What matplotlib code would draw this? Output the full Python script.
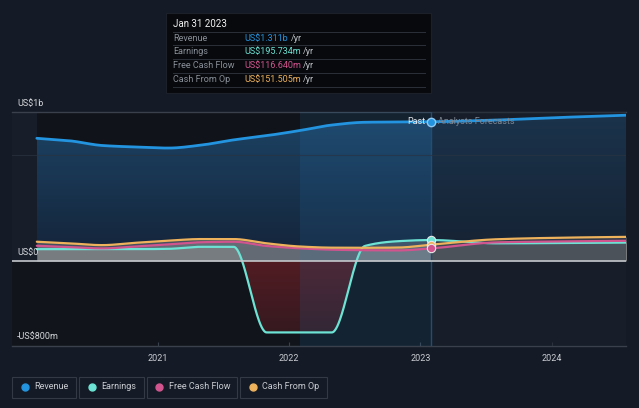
import numpy as np
import pandas as pd
import matplotlib
matplotlib.use("Agg")
import matplotlib.pyplot as plt
import matplotlib.dates as mdates
from matplotlib.patches import Rectangle
from matplotlib.lines import Line2D
from matplotlib.textpath import TextPath
from matplotlib.font_manager import FontProperties

plt.rcParams['font.family'] = ['Roboto', 'DejaVu Sans']

# data in US$ billions
past_dates = ["2020-01-31", "2020-04-30", "2020-07-31", "2020-10-31", "2021-01-31",
              "2021-04-30", "2021-07-31", "2021-10-31", "2022-01-31", "2022-04-30",
              "2022-07-31", "2022-10-31", "2023-01-31"]
fc_dates = ["2023-01-31", "2023-07-31", "2024-01-31", "2024-07-31"]

revenue = [1.155, 1.132, 1.087, 1.073, 1.063, 1.09, 1.14, 1.18, 1.228, 1.28, 1.306, 1.309, 1.311]
earnings = [0.11, 0.11, 0.11, 0.11, 0.113, 0.132, 0.132, -0.675, -0.675, -0.675, 0.14, 0.185, 0.196]
fcf = [0.142, 0.13, 0.117, 0.135, 0.155, 0.175, 0.18, 0.14, 0.118, 0.105, 0.1, 0.098, 0.117]
cfo = [0.18, 0.165, 0.148, 0.17, 0.19, 0.205, 0.205, 0.165, 0.135, 0.124, 0.123, 0.125, 0.152]

revenue_fc = [1.311, 1.327, 1.352, 1.373]
earnings_fc = [0.196, 0.165, 0.168, 0.172]
fcf_fc = [0.117, 0.174, 0.183, 0.189]
cfo_fc = [0.152, 0.203, 0.218, 0.226]

names = ["Revenue", "Earnings", "Free Cash Flow", "Cash From Op"]
colors = ["#2394df", "#6ce3d4", "#d2548f", "#eeb25c"]
tip_values = ["US$1.311b", "US$195.734m", "US$116.640m", "US$151.505m"]
year_ticks = ["2021-01-01", "2022-01-01", "2023-01-01", "2024-01-01"]

BG = "#151b26"
W, H = 639, 408


def fp(x, y):
    return x / W, 1 - y / H


def smooth(x, y, n=500):
    # monotone cubic, like the curves on the site
    x = np.asarray(x, float)
    y = np.asarray(y, float)
    h = np.diff(x)
    d = np.diff(y) / h
    m = np.zeros_like(y)
    m[0], m[-1] = d[0], d[-1]
    for i in range(1, len(y) - 1):
        if d[i - 1] * d[i] <= 0:
            m[i] = 0
        else:
            w1 = 2 * h[i] + h[i - 1]
            w2 = h[i] + 2 * h[i - 1]
            m[i] = (w1 + w2) / (w1 / d[i - 1] + w2 / d[i])
    xs = np.linspace(x[0], x[-1], n)
    k = np.clip(np.searchsorted(x, xs) - 1, 0, len(h) - 1)
    t = (xs - x[k]) / h[k]
    ys = ((2 * t**3 - 3 * t**2 + 1) * y[k] + (t**3 - 2 * t**2 + t) * h[k] * m[k]
          + (-2 * t**3 + 3 * t**2) * y[k + 1] + (t**3 - t**2) * h[k] * m[k + 1])
    return xs, ys


def gradient_fill(ax, xs, y1, y2, c_top, c_bot, ylo, yhi, z):
    poly = ax.fill_between(xs, y1, y2, color="none", lw=0)
    c1 = np.array(matplotlib.colors.to_rgb(c_top))
    c2 = np.array(matplotlib.colors.to_rgb(c_bot))
    t = np.linspace(0, 1, 256)[:, None]
    img = (c1 * (1 - t) + c2 * t)[:, None, :]
    im = ax.imshow(img, extent=[xs[0], xs[-1], ylo, yhi], aspect="auto",
                   origin="upper", zorder=z)
    im.set_clip_path(poly.get_paths()[0], transform=ax.transData)


pd_past = mdates.date2num(pd.to_datetime(past_dates))
pd_fc = mdates.date2num(pd.to_datetime(fc_dates))
all_x = np.concatenate([pd_past, pd_fc[1:]])
now = pd_past[-1]
year_ago = mdates.date2num(pd.Timestamp("2022-01-31"))

fig = plt.figure(figsize=(W / 100, H / 100), dpi=100, facecolor=BG)
ax = fig.add_axes([12 / W, 1 - 345.7 / H, 614 / W, 233.4 / H])
ax.set_facecolor("#171e2a")

x0 = mdates.date2num(pd.Timestamp("2019-11-23"))
x1 = mdates.date2num(pd.Timestamp("2024-07-26"))
ax.set_xlim(x0, x1)
ax.set_ylim(-0.8, 1.4)
zero_frac = 0.8 / 2.2

# dark past area
ax.axvspan(pd_past[0], now, ymin=zero_frac, color="#101319", zorder=0, lw=0)
ax.axvspan(x0, now, ymax=zero_frac, color="#11151b", zorder=0, lw=0)

series = [(revenue, revenue_fc), (earnings, earnings_fc), (fcf, fcf_fc), (cfo, cfo_fc)]
curves = []
for past, fc in series:
    xs, ys = smooth(all_x, list(past) + list(fc)[1:], 900)
    curves.append((xs, ys))

# revenue area
xs, ys = curves[0]
gradient_fill(ax, xs, ys, 0, "#1d4466", "#142338", 0, 1.4, 1)

# grey areas under the small series, red where earnings go negative
for xs, ys in curves[1:]:
    ax.fill_between(xs, 0, np.maximum(ys, 0), color="#9c9c9c", alpha=0.36, lw=0, zorder=2)
xs, ys = curves[1]
gradient_fill(ax, xs, np.minimum(ys, 0), 0, "#521c23", "#30191f", -0.8, 0, 2)

# forecast area is dimmer, last year is highlighted
ax.axvspan(now, x1, color="#18202c", alpha=0.45, zorder=3, lw=0)
ax.axvspan(year_ago, now, color="#2b78b5", alpha=0.15, zorder=3, lw=0)
ax.axvline(now, color="#1f4f76", lw=1, zorder=4)
ax.axhline(1.0, color="#2a3342", lw=0.8, alpha=0.7, zorder=4)

for (xs, ys), c in zip(curves, colors):
    ax.plot(xs, ys, color=c, lw=2 if c == colors[0] else 1.6, zorder=6,
            solid_capstyle="round")

ax.axhline(0, color="#c4c7cc", lw=1.2, zorder=7)

# markers at the latest reported value
ax.plot([now], [revenue[-1]], "o", ms=6, mfc=colors[0], mec="#8fc8f0", mew=1, zorder=8)
for vals, c in zip([earnings, cfo, fcf], [colors[1], colors[3], colors[2]]):
    ax.plot([now], [vals[-1]], "o", ms=6, mfc=c, mec="#e8e8e8", mew=0.8, zorder=8)

ax.text(now - 17, revenue[-1], "Past", color="#e6e8eb", fontsize=6.5,
        ha="right", va="center", zorder=9)
ax.text(now + 18, revenue[-1], "Analysts Forecasts", color="#7f8792", fontsize=6.5,
        ha="left", va="center", zorder=9)

# axes styling
for s in ["left", "right"]:
    ax.spines[s].set_visible(False)
for s in ["top", "bottom"]:
    ax.spines[s].set_color("#3a414c")
    ax.spines[s].set_linewidth(1)
ax.set_yticks([])
ax.set_xticks(mdates.date2num(pd.to_datetime(year_ticks)))
ax.xaxis.set_major_formatter(mdates.DateFormatter("%Y"))
ax.tick_params(axis="x", colors="#3a414c", labelcolor="#c9ccd1", labelsize=6.5,
               length=3, direction="in", pad=6)

ylab = dict(color="#d4d6da", fontsize=6.5, ha="left", va="bottom")
fig.text(*fp(17, 108), "US$1b", **ylab)
fig.text(*fp(17, 257), "US$0", **ylab)
fig.text(*fp(17, 341), "-US$800m", **ylab)

# tooltip box
fig.patches.append(Rectangle(fp(166, 92.7), 264.7 / W, 80 / H, transform=fig.transFigure,
                             facecolor="#07090c", edgecolor="#1c2129", lw=0.8, zorder=10))
fig.text(*fp(173, 24), "Jan 31 2023", color="#f0f0f0", fontsize=7, va="center", zorder=11)
row_y = [38.3, 52, 65.7, 79.3]
for y in [32, 45.2, 58.8, 72.5, 86.5]:
    fig.add_artist(Line2D([173 / W, 425 / W], [1 - y / H] * 2, color="#2c3038", lw=0.7, zorder=11))
prop = FontProperties(family=['Roboto', 'DejaVu Sans'])
for y, n, v, c in zip(row_y, names, tip_values, colors):
    fig.text(*fp(173, y), n, color="#8a9099", fontsize=6.5, va="center", zorder=11)
    fig.text(*fp(244.5, y), v, color=c, fontsize=6.5, va="center", zorder=11)
    wpx = TextPath((0, 0), v, size=6.5, prop=prop).get_extents().width * 100 / 72
    fig.text(*fp(244.5 + wpx + 3, y), "/yr", color="#c3c7cc", fontsize=6.5, va="center", zorder=11)

# legend boxes
legend_boxes = [(12.3, 76), (79.3, 143.7), (147, 237), (240.3, 326.7)]
for (bx0, bx1), n, c in zip(legend_boxes, names, colors):
    fig.patches.append(Rectangle(fp(bx0, 398.3), (bx1 - bx0) / W, 21 / H,
                                 transform=fig.transFigure, facecolor="none",
                                 edgecolor="#343a45", lw=0.8))
    fig.add_artist(Line2D([(bx0 + 12.4) / W], [1 - 386.7 / H], marker="o", ms=5,
                          color=c, lw=0))
    fig.text(*fp(bx0 + 22, 386.7), n, color="#c9ccd1", fontsize=6.5, va="center")

fig.savefig("out.png", dpi=100, facecolor=BG)
